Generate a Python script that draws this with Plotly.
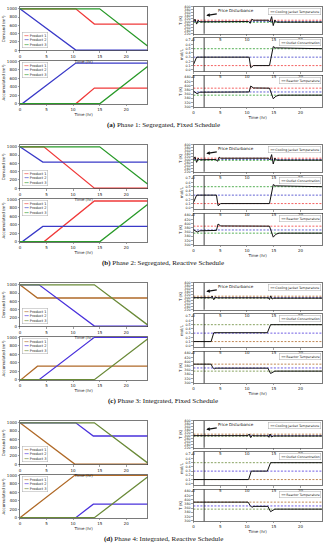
import plotly.graph_objects as go

W, H = 325, 550

# ---------------- data ----------------
TIME_TICKS = [0, 5, 10, 15, 20]
VOL_TICKS = [0, 200, 400, 600, 800, 1000]
COOL_TICKS = [220, 240, 260, 280, 300, 320, 340, 360, 380, 400]
CONC_TICKS = [0.0, 0.1, 0.2, 0.3, 0.4, 0.5, 0.6, 0.7]
REACT_TICKS = [300, 320, 340, 360, 380, 400, 420, 440]
PRODUCTS = ["Product 1", "Product 2", "Product 3"]
COOL_SP = [311, 302, 297]
CONC_SP = [0.1, 0.3, 0.5]
REACT_SP = [388, 370, 355]
DISTURBANCE_T = 2
CAPTIONS = [("(a)", "Phase 1: Segregated, Fixed Schedule"),
            ("(b)", "Phase 2: Segregated, Reactive Schedule"),
            ("(c)", "Phase 3: Integrated, Fixed Schedule"),
            ("(d)", "Phase 4: Integrated, Reactive Schedule")]
COLORS_SEG = ["#f03a3a", "#3a3ac8", "#2a9a2a"]
COLORS_INT = ["#b06a28", "#4a32dc", "#6a8a38"]

# Phase 1 (time hr, value)
ph1_dem_p1 = [(0, 1000), (10.5, 1000), (14, 630), (24, 630)]
ph1_dem_p2 = [(0, 1000), (10.5, 0), (24, 0)]
ph1_dem_p3 = [(0, 1000), (15, 1000), (24, 100)]
ph1_acc_p1 = [(0, 0), (10.5, 0), (14, 370), (24, 370)]
ph1_acc_p2 = [(0, 0), (0.4, 0), (10.5, 960), (24, 960)]
ph1_acc_p3 = [(0, 0), (15, 0), (24, 880)]
ph1_cool = [(0, 302), (0.3, 318), (0.6, 285), (0.9, 310), (1.2, 300), (10.3, 302), (10.6, 290),
            (10.9, 318), (11.2, 311), (14.0, 311), (14.3, 300), (14.6, 335), (14.9, 275),
            (15.2, 312), (15.5, 298), (24, 298)]
ph1_conc = [(0, 0.12), (0.6, 0.3), (10.4, 0.3), (10.7, 0.05), (11.2, 0.1), (14.2, 0.1),
            (14.9, 0.55), (15.3, 0.52), (24, 0.5)]
ph1_react = [(0, 374), (0.3, 368), (0.7, 362), (1.2, 369), (10.4, 370), (10.7, 398), (11.2, 389),
             (14.2, 388), (14.9, 338), (15.4, 350), (16, 355), (24, 355)]

# Phase 2
ph2_dem_p1 = [(0, 1000), (4.5, 1000), (14, 0), (24, 0)]
ph2_dem_p2 = [(0, 1000), (4.3, 630), (24, 630)]
ph2_dem_p3 = [(0, 1000), (15, 1000), (24, 100)]
ph2_acc_p1 = [(0, 0), (4.5, 0), (14, 960), (24, 960)]
ph2_acc_p2 = [(0, 0), (0.4, 0), (4.3, 360), (24, 360)]
ph2_acc_p3 = [(0, 0), (15, 0), (24, 880)]
ph2_cool = [(0, 302), (0.3, 320), (0.6, 283), (0.9, 310), (1.2, 300), (4.2, 302), (4.5, 290),
            (4.8, 318), (5.1, 311), (14.0, 311), (14.3, 300), (14.6, 335), (14.9, 272),
            (15.2, 312), (15.5, 298), (24, 298)]
ph2_conc = [(0, 0.12), (0.6, 0.3), (4.3, 0.3), (4.6, 0.05), (5.1, 0.1), (14.2, 0.1),
            (14.9, 0.55), (15.3, 0.52), (24, 0.5)]
ph2_react = [(0, 372), (0.3, 366), (0.7, 360), (1.2, 366), (4.3, 368), (4.6, 398), (5.1, 389),
             (14.2, 388), (14.9, 336), (15.4, 350), (16, 355), (24, 355)]

# Phase 3
ph3_dem_p1 = [(0, 1000), (3.3, 680), (24, 680)]
ph3_dem_p2 = [(0, 1000), (3.6, 1000), (14, 0), (24, 0)]
ph3_dem_p3 = [(0, 1000), (14, 1000), (24, 30)]
ph3_acc_p1 = [(0, 0), (0.2, 0), (3.3, 320), (24, 320)]
ph3_acc_p2 = [(0, 0), (3.6, 0), (14, 1000), (24, 1000)]
ph3_acc_p3 = [(0, 0), (14, 0), (24, 960)]
ph3_cool = [(0, 301), (3.3, 301), (3.5, 312), (3.8, 287), (4.1, 306), (4.4, 300), (14.0, 300),
            (14.2, 289), (14.4, 313), (14.7, 292), (15.0, 298), (24, 298)]
ph3_conc = [(0, 0.1), (3.3, 0.1), (3.8, 0.31), (13.8, 0.31), (14.4, 0.5), (24, 0.5)]
ph3_react = [(0, 388), (3.3, 388), (3.6, 372), (3.9, 366), (4.2, 369), (13.9, 369), (14.4, 344),
             (14.8, 350), (15.2, 355), (24, 355)]

# Phase 4
ph4_dem_p1 = [(0, 1000), (10.3, 0), (24, 0)]
ph4_dem_p2 = [(0, 1000), (10.5, 1000), (13.8, 680), (24, 680)]
ph4_dem_p3 = [(0, 1000), (14, 1000), (24, 30)]
ph4_acc_p1 = [(0, 0), (10.3, 1000), (24, 1000)]
ph4_acc_p2 = [(0, 0), (10.5, 0), (13.8, 320), (24, 320)]
ph4_acc_p3 = [(0, 0), (14, 0), (24, 960)]
ph4_cool = [(0, 301), (10.2, 301), (10.4, 312), (10.7, 288), (11.0, 305), (11.3, 300), (13.9, 300),
            (14.1, 290), (14.3, 312), (14.6, 292), (14.9, 299), (24, 299)]
ph4_conc = [(0, 0.1), (10.3, 0.1), (10.8, 0.3), (13.8, 0.3), (14.4, 0.5), (24, 0.5)]
ph4_react = [(0, 388), (10.2, 388), (10.6, 372), (10.9, 364), (11.3, 368), (13.9, 368), (14.4, 343),
             (14.8, 350), (15.2, 355), (24, 355)]

PHASES = [
    dict(dem=[ph1_dem_p1, ph1_dem_p2, ph1_dem_p3], acc=[ph1_acc_p1, ph1_acc_p2, ph1_acc_p3],
         cool=ph1_cool, conc=ph1_conc, react=ph1_react, colors=COLORS_SEG, off=0),
    dict(dem=[ph2_dem_p1, ph2_dem_p2, ph2_dem_p3], acc=[ph2_acc_p1, ph2_acc_p2, ph2_acc_p3],
         cool=ph2_cool, conc=ph2_conc, react=ph2_react, colors=COLORS_SEG, off=139),
    dict(dem=[ph3_dem_p1, ph3_dem_p2, ph3_dem_p3], acc=[ph3_acc_p1, ph3_acc_p2, ph3_acc_p3],
         cool=ph3_cool, conc=ph3_conc, react=ph3_react, colors=COLORS_INT, off=278),
    dict(dem=[ph4_dem_p1, ph4_dem_p2, ph4_dem_p3], acc=[ph4_acc_p1, ph4_acc_p2, ph4_acc_p3],
         cool=ph4_cool, conc=ph4_conc, react=ph4_react, colors=COLORS_INT, off=417),
]

# ---------------- figure ----------------
FONT = "DejaVu Sans"
TF = dict(family=FONT, size=4, color="#222")
TF_SMALL = dict(family=FONT, size=3.3, color="#222")
fig = go.Figure()
layout = dict(width=W, height=H, margin=dict(l=0, r=0, t=0, b=0),
              paper_bgcolor="white", plot_bgcolor="white", showlegend=False)
annotations = []
shapes = []


def xr(n):
    return "x" if n == 1 else f"x{n}"


def yr(n):
    return "y" if n == 1 else f"y{n}"


def xd(a, b):
    return [a / W, b / W]


def yd(a, b):
    return [1 - b / H, 1 - a / H]


def add_axes(n, xdom, ydom, yrange, yticks, ytitle, xtitle, ytickfmt=None, yfont=TF):
    ax = dict(domain=xdom, range=[0, 24], tickvals=TIME_TICKS, ticks="outside", ticklen=1.5,
              tickwidth=0.5, tickfont=TF, showline=True, mirror=True, linecolor="#222",
              linewidth=0.6, showgrid=False, zeroline=False, anchor=yr(n), fixedrange=True)
    if xtitle:
        ax["title"] = dict(text=xtitle, font=TF, standoff=1)
    ay = dict(domain=ydom, range=yrange, tickvals=yticks, ticks="outside", ticklen=1.5,
              tickwidth=0.5, tickfont=yfont, showline=True, mirror=True, linecolor="#222",
              linewidth=0.6, showgrid=False, zeroline=False, anchor=xr(n), fixedrange=True,
              title=dict(text=ytitle, font=TF, standoff=1))
    if ytickfmt:
        ay["tickformat"] = ytickfmt
    layout["xaxis" if n == 1 else f"xaxis{n}"] = ax
    layout["yaxis" if n == 1 else f"yaxis{n}"] = ay


def line(n, pts, color, width=1.2, dash=None):
    fig.add_trace(go.Scatter(x=[p[0] for p in pts], y=[p[1] for p in pts], mode="lines",
                             xaxis=xr(n), yaxis=yr(n), hoverinfo="skip",
                             line=dict(color=color, width=width, dash=dash)))


def legend_box(n, entries, x, y, xanchor, yanchor, size=3.5):
    text = "<br>".join(f"<span style='color:{c}'>━━</span> {t}" for t, c in entries)
    annotations.append(dict(xref=f"{xr(n)} domain", yref=f"{yr(n)} domain", x=x, y=y,
                            xanchor=xanchor, yanchor=yanchor, text=text, showarrow=False,
                            align="left", font=dict(family=FONT, size=size, color="#222"),
                            bgcolor="white", bordercolor="#aaa", borderwidth=0.5, borderpad=1))


for i, ph in enumerate(PHASES):
    o = ph["off"]
    cols = ph["colors"]
    base = i * 5
    n_dem, n_acc, n_cool, n_conc, n_react = [base + k + 1 for k in range(5)]
    add_axes(n_dem, xd(19, 147), yd(5 + o, 49 + o), [-12, 1045], VOL_TICKS, "Demand (m³)", "Time (hr)")
    add_axes(n_acc, xd(19, 147), yd(59 + o, 103 + o), [-12, 1018], VOL_TICKS, "Accumulated (m³)", "Time (hr)")
    add_axes(n_cool, xd(193, 322), yd(5 + o, 32 + o), [220, 400], COOL_TICKS, "T (K)", None, yfont=TF_SMALL)
    add_axes(n_conc, xd(193, 322), yd(36 + o, 70 + o), [-0.04, 0.76], CONC_TICKS, "mol/L", None, ".1f", TF_SMALL)
    add_axes(n_react, xd(193, 322), yd(74 + o, 106 + o), [298, 448], REACT_TICKS, "T (K)", "Time (hr)", yfont=TF_SMALL)

    for k in range(3):
        line(n_dem, ph["dem"][k], cols[k], 1.3)
        line(n_acc, ph["acc"][k], cols[k], 1.3)
    legend_box(n_dem, list(zip(PRODUCTS, cols)), 0.02, 0.05, "left", "bottom")
    legend_box(n_acc, list(zip(PRODUCTS, cols)), 0.02, 0.97, "left", "top")

    for n, sp, key, leg in [(n_cool, COOL_SP, "cool", "Cooling Jacket Temperature"),
                            (n_conc, CONC_SP, "conc", "Outlet Concentration"),
                            (n_react, REACT_SP, "react", "Reactor Temperature")]:
        for k in range(3):
            line(n, [(0, sp[k]), (24, sp[k])], cols[k], 0.8, "2px,1.5px")
        line(n, ph[key], "#111", 1.0)
        shapes.append(dict(type="line", xref=xr(n), yref=f"{yr(n)} domain", x0=DISTURBANCE_T,
                           x1=DISTURBANCE_T, y0=0, y1=1, line=dict(color="#111", width=0.8)))
        legend_box(n, [(leg, "#111")], 0.99, 0.95, "right", "top", size=3.2)

    annotations.append(dict(xref=xr(n_cool), yref=yr(n_cool), x=DISTURBANCE_T + 0.4, y=342,
                            ax=30, ay=-5, text="Price Disturbance", showarrow=True,
                            arrowhead=2, arrowsize=0.6, arrowwidth=1.2, arrowcolor="#111",
                            font=dict(family=FONT, size=4, color="#111")))

    tag, cap = CAPTIONS[i]
    annotations.append(dict(xref="paper", yref="paper", x=0.5, y=1 - (124 + o) / H,
                            xanchor="center", yanchor="middle", showarrow=False,
                            text=f"<b>{tag}</b> {cap}",
                            font=dict(family="Liberation Serif", size=7, color="#111")))

layout["annotations"] = annotations
layout["shapes"] = shapes
fig.update_layout(**layout)
fig.write_html("out.html", config={"displayModeBar": False, "staticPlot": True},
               post_script="document.body.style.margin='0';")
